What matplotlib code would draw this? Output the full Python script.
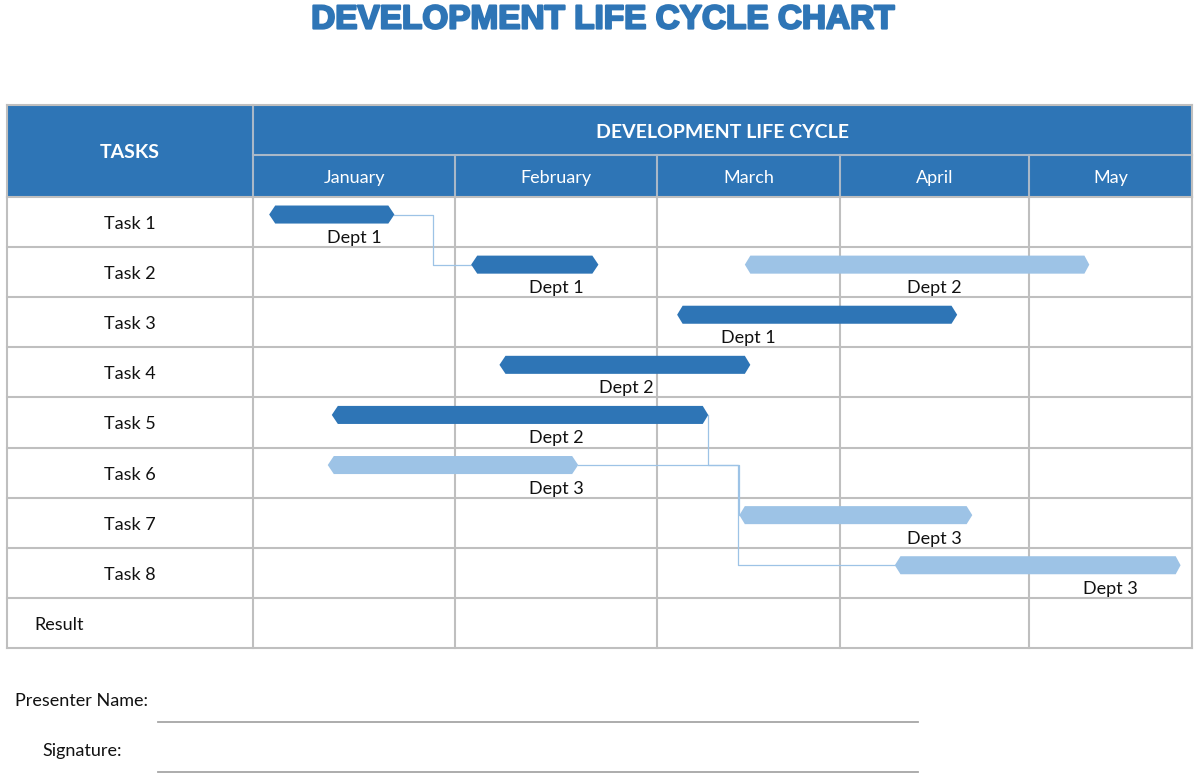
import matplotlib
matplotlib.use("Agg")
import matplotlib.pyplot as plt
import matplotlib.patheffects as pe
import numpy as np
from matplotlib.patches import Polygon, Rectangle

# --- data ---
title = "DEVELOPMENT LIFE CYCLE CHART"
band_title = "DEVELOPMENT LIFE CYCLE"
months = ["January", "February", "March", "April", "May"]
tasks = ["Task 1", "Task 2", "Task 3", "Task 4", "Task 5", "Task 6", "Task 7", "Task 8"]

# bars: row index, start (months from Jan 1), end, department, label position
bar_rows = [0, 1, 1, 2, 3, 4, 5, 6, 7]
bar_start = [0.08, 1.08, 2.48, 2.11, 1.22, 0.39, 0.37, 2.45, 3.29]
bar_end = [0.70, 1.71, 4.37, 3.62, 2.51, 2.28, 1.61, 3.70, 4.93]
bar_dept = ["Dept 1", "Dept 1", "Dept 2", "Dept 1", "Dept 2", "Dept 2", "Dept 3", "Dept 3", "Dept 3"]
label_pos = [0.50, 1.50, 3.50, 2.50, 1.85, 1.50, 1.50, 3.50, 4.50]

# dependencies: (from bar, to bar, elbow positions in months)
links = [(0, 1, [0.89]), (5, 8, [2.28, 2.44]), (6, 7, [2.45])]

DARK = "#2E75B6"
LIGHT = "#9DC3E6"
GRID = "#BFBFBF"
bar_color = [DARK, DARK, LIGHT, DARK, DARK, DARK, LIGHT, LIGHT, LIGHT]

# --- layout (pixels) ---
W, H = 1200, 781
left, split, right = 7, 253, 1192
top, band_bot, head_bot = 105, 155, 197
row_h = 50.1
col_edges = [253, 455, 657, 840, 1029, 1192]
n_rows = len(tasks) + 1
dy = 2  # Lato sits a little high with va="center"

fig = plt.figure(figsize=(W / 100, H / 100), dpi=100)
ax = fig.add_axes([0, 0, 1, 1])
ax.set_xlim(0, W)
ax.set_ylim(H, 0)
ax.axis("off")

body_font = "Lato"

ax.text(W / 2 + 3, 20, title, ha="center", va="center", fontsize=24,
        fontweight="bold", color=DARK, family="Liberation Sans",
        path_effects=[pe.withStroke(linewidth=1.6, foreground=DARK)])

# header band
ax.add_patch(Rectangle((left, top), right - left, head_bot - top, color=DARK, lw=0))
ax.plot([split, right], [band_bot, band_bot], color="#A9B8C8", lw=1.5)
for x in col_edges:
    ax.plot([x, x], [band_bot if x != split else top, head_bot], color="#A9B8C8", lw=1.5)
ax.text((left + split) / 2, (top + head_bot) / 2 + dy, "TASKS", ha="center", va="center",
        fontsize=14, fontweight="bold", color="white", family=body_font)
ax.text((split + right) / 2, (top + band_bot) / 2 + dy, band_title, ha="center", va="center",
        fontsize=14, fontweight="bold", color="white", family=body_font)
for i, m in enumerate(months):
    ax.text((col_edges[i] + col_edges[i + 1]) / 2, (band_bot + head_bot) / 2 + dy, m,
            ha="center", va="center", fontsize=13, color="white", family=body_font)

# body grid
body_bot = head_bot + n_rows * row_h
for r in range(n_rows + 1):
    y = head_bot + r * row_h
    ax.plot([left, right], [y, y], color=GRID, lw=1.5)
for x in [left] + col_edges:
    ax.plot([x, x], [head_bot, body_bot], color=GRID, lw=1.5)
ax.plot([left, left], [top, head_bot], color=GRID, lw=1.5)
ax.plot([right, right], [top, head_bot], color=GRID, lw=1.5)
ax.plot([left, right], [top, top], color=GRID, lw=1.5)

for i, t in enumerate(tasks):
    ax.text((left + split) / 2, head_bot + (i + 0.5) * row_h + dy, t, ha="center", va="center",
            fontsize=13, color="#111111", family=body_font)
ax.text(34, head_bot + (n_rows - 0.5) * row_h + dy, "Result", ha="left", va="center",
        fontsize=13, color="#111111", family=body_font)

# sign-off lines
ax.text(15, 699 + dy, "Presenter Name:", ha="left", va="center", fontsize=13, color="#111111", family=body_font)
ax.plot([158, 918], [722, 722], color="#A6A6A6", lw=1.3)
ax.text(42, 749 + dy, "Signature:", ha="left", va="center", fontsize=13, color="#111111", family=body_font)
ax.plot([158, 918], [772, 772], color="#A6A6A6", lw=1.3)

# --- gantt axes over month columns ---
month_pos = np.arange(len(col_edges))
px = np.array(col_edges, dtype=float)


def fwd(m):
    return np.interp(m, month_pos, px)


def inv(p):
    return np.interp(p, px, month_pos)


gx = fig.add_axes([split / W, 1 - (head_bot + len(tasks) * row_h) / H,
                   (right - split) / W, len(tasks) * row_h / H])
gx.set_xscale("function", functions=(fwd, inv))
gx.set_xlim(0, len(months))
gx.set_ylim(len(tasks), 0)
gx.axis("off")
gx.patch.set_alpha(0)

bar_y = 0.35
half_h = 0.18
tip = 0.03

for (a, b, vias) in links:
    ya = bar_rows[a] + bar_y
    yb = bar_rows[b] + bar_y
    xs, ys = [bar_end[a]], [ya]
    y_cur = ya
    for k, v in enumerate(vias):
        xs.append(v)
        ys.append(y_cur)
        y_cur = yb if k == len(vias) - 1 else y_cur + 1
        xs.append(v)
        ys.append(y_cur)
    xs.append(bar_start[b])
    ys.append(yb)
    gx.plot(xs, ys, color=LIGHT, lw=0.9, zorder=1)

for r, s, e, c in zip(bar_rows, bar_start, bar_end, bar_color):
    y = r + bar_y
    pts = [(s, y), (s + tip, y - half_h), (e - tip, y - half_h), (e, y),
           (e - tip, y + half_h), (s + tip, y + half_h)]
    gx.add_patch(Polygon(pts, closed=True, facecolor=c, edgecolor="none", zorder=2))

for r, lp, d in zip(bar_rows, label_pos, bar_dept):
    gx.text(lp, r + 0.78 + dy / row_h, d, ha="center", va="center", fontsize=13,
            color="#111111", family=body_font, zorder=3)

fig.savefig("out.png", dpi=100)
